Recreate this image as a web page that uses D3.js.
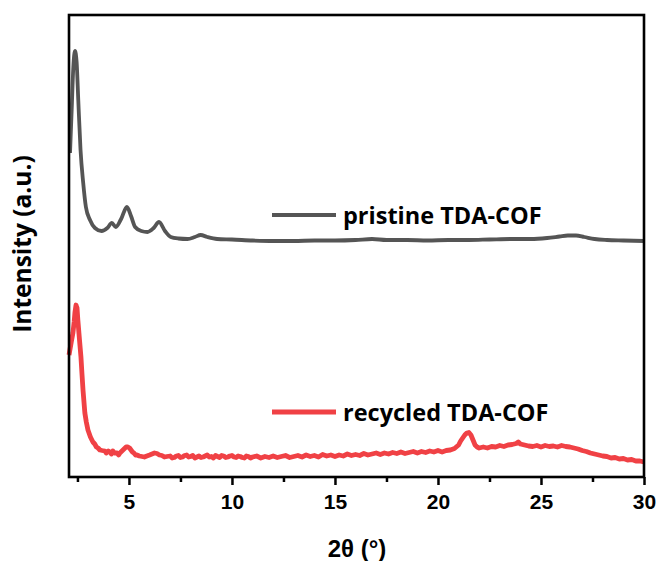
<!DOCTYPE html>
<html>
<head>
<meta charset="utf-8">
<script src="https://cdn.jsdelivr.net/npm/d3@7"></script>
<style>
  html, body { margin: 0; padding: 0; background: #fff; }
  svg { display: block; }
</style>
</head>
<body>
<svg id="chart" width="660" height="561"></svg>
<script>
// PXRD patterns, [2θ (°), intensity (a.u.)], curves stacked for display
const pristine = [
  [2.14, 324], [2.22, 367], [2.30, 410], [2.38, 426], [2.46, 415], [2.54, 377],
  [2.65, 327], [2.78, 294], [2.91, 270], [3.11, 257], [3.35, 249], [3.67, 246],
  [3.95, 249], [4.17, 254], [4.36, 250], [4.62, 258], [4.90, 270], [5.10, 261],
  [5.30, 250], [5.60, 246], [5.90, 245], [6.20, 249], [6.46, 255], [6.75, 246],
  [7.03, 240], [7.40, 238.5], [7.84, 238], [8.20, 240], [8.48, 242], [8.80, 240],
  [9.28, 238], [10.0, 237.5], [11.0, 236.5], [12.0, 236], [13.0, 236], [14.0, 236.5],
  [15.0, 236.5], [16.0, 237], [16.8, 238], [17.5, 237], [18.5, 237], [19.5, 236.5],
  [20.5, 237], [21.5, 237], [22.5, 237.5], [23.5, 238], [24.5, 238], [25.3, 239],
  [25.9, 240.5], [26.3, 241.5], [26.7, 241.5], [27.1, 240], [27.6, 238], [28.2, 237],
  [29.0, 236.5], [30.0, 236]
];

const recycled = [
  [2.09, 122], [2.20, 135], [2.28, 144], [2.34, 155], [2.38, 165], [2.43, 172],
  [2.46, 170], [2.48, 169], [2.52, 157], [2.60, 137], [2.67, 120], [2.72, 103],
  [2.77, 87], [2.86, 64], [2.93, 55], [3.01, 47], [3.13, 40], [3.25, 35],
  [3.34, 33], [3.42, 30], [3.50, 29], [3.59, 27], [3.70, 26.5], [3.83, 26],
  [3.90, 24], [4.00, 26], [4.08, 25], [4.15, 23], [4.22, 26], [4.30, 24],
  [4.42, 24], [4.50, 22], [4.56, 24], [4.66, 26], [4.76, 28], [4.86, 30],
  [4.95, 30], [5.03, 29], [5.10, 27], [5.17, 25], [5.24, 24], [5.32, 22],
  [5.39, 22], [5.50, 21], [5.63, 20.5], [5.75, 20], [5.87, 21], [6.00, 22],
  [6.12, 23], [6.24, 24], [6.36, 23.5], [6.48, 22], [6.60, 21.5], [6.72, 20],
  [6.84, 20.5], [7.0, 21], [7.1, 19], [7.2, 19.5], [7.3, 21], [7.4, 21.5], [7.5, 19.5],
  [7.6, 20], [7.7, 21.5], [7.8, 22], [7.9, 20], [8.0, 20.5], [8.1, 21.5], [8.2, 19],
  [8.3, 20], [8.4, 21], [8.5, 19.5], [8.6, 20], [8.7, 21], [8.8, 22], [8.9, 20],
  [9.0, 20.5], [9.1, 19], [9.2, 21.5], [9.3, 20.5], [9.4, 19.5], [9.5, 21.5],
  [9.6, 21], [9.7, 19.5], [9.8, 20], [9.9, 21], [10.0, 21.5], [10.1, 20], [10.2, 19.5],
  [10.3, 21], [10.4, 20.5], [10.5, 19.5], [10.6, 19], [10.7, 21], [10.8, 20.5],
  [10.9, 19], [11.0, 20], [11.2, 21], [11.4, 19],
  [11.6, 20.5], [11.8, 19.5], [12.0, 21], [12.2, 19.5], [12.4, 20.5], [12.6, 21.5],
  [12.8, 19.5], [13.0, 20.5], [13.2, 21.5], [13.4, 20], [13.6, 22], [13.8, 20.5],
  [14.0, 21.5], [14.2, 20], [14.4, 22.5], [14.6, 21], [14.8, 22], [15.0, 20.5],
  [15.2, 22], [15.4, 21], [15.6, 23], [15.8, 21.5], [16.0, 22.5], [16.2, 21.5],
  [16.4, 23.5], [16.6, 22], [16.8, 23], [17.0, 24], [17.2, 22.5], [17.4, 24],
  [17.6, 23], [17.8, 24.5], [18.0, 23.5], [18.2, 25], [18.4, 23.5], [18.6, 24.5],
  [18.8, 25.5], [19.0, 24], [19.2, 25.5], [19.4, 24.5], [19.6, 26], [19.8, 25],
  [20.0, 26.5], [20.2, 25], [20.4, 26.5], [20.6, 27], [20.8, 28.5], [21.0, 32],
  [21.1, 36], [21.2, 39], [21.3, 42], [21.4, 44], [21.5, 44.5], [21.6, 42],
  [21.7, 37], [21.8, 32], [21.9, 30], [22.0, 29], [22.2, 30], [22.4, 29],
  [22.6, 30.5], [22.8, 30], [23.0, 31.5], [23.2, 30.5], [23.4, 32], [23.6, 32.5],
  [23.8, 33.5], [23.9, 35], [24.0, 33], [24.2, 32], [24.4, 31], [24.6, 30.5],
  [24.8, 31.5], [25.0, 30], [25.2, 31.5], [25.4, 30.5], [25.6, 31], [25.8, 30],
  [26.0, 31.5], [26.2, 30.5], [26.4, 30], [26.6, 29], [26.8, 28], [27.0, 26.5],
  [27.2, 25.5], [27.4, 24], [27.6, 23], [27.8, 22], [28.0, 21], [28.2, 20.5],
  [28.4, 19], [28.6, 19.5], [28.8, 18], [29.0, 18.5], [29.2, 17], [29.4, 17.5],
  [29.6, 16], [29.8, 16], [30.0, 15]
];

const seriesNames = ["pristine TDA-COF", "recycled TDA-COF"];
const seriesColors = ["#555555", "#f04145"];
const xTicks = [5, 10, 15, 20, 25, 30];
const xMinorTicks = [2.5, 7.5, 12.5, 17.5, 22.5, 27.5];
const xDomain = [2.09, 30];
const yDomain = [0, 462];

const plot = { left: 69, right: 644, top: 15, bottom: 477 };

const svg = d3.select("#chart");

const x = d3.scaleLinear().domain(xDomain).range([plot.left, plot.right]);
const y = d3.scaleLinear().domain(yDomain).range([plot.bottom, plot.top]);

const line = d3.line()
  .x(d => x(d[0]))
  .y(d => y(d[1]));

// traces
svg.append("path")
  .datum(recycled)
  .attr("d", line.curve(d3.curveLinear))
  .attr("fill", "none")
  .attr("stroke", seriesColors[1])
  .attr("stroke-width", 4.8)
  .attr("stroke-linejoin", "round");

svg.append("path")
  .datum(pristine)
  .attr("d", line.curve(d3.curveMonotoneX))
  .attr("fill", "none")
  .attr("stroke", seriesColors[0])
  .attr("stroke-width", 3.8)
  .attr("stroke-linejoin", "round");

// bottom axis with major and minor ticks
const xAxis = d3.axisBottom(x).tickValues(xTicks).tickSize(8).tickFormat(d3.format("d"));
const gx = svg.append("g")
  .attr("transform", `translate(0,${plot.bottom})`)
  .call(xAxis);
gx.select(".domain").remove();
gx.selectAll(".tick line").attr("stroke", "#000").attr("stroke-width", 2.5);
gx.selectAll(".tick text")
  .attr("y", 17)
  .attr("dy", "0.71em")
  .style("font-family", "'Liberation Sans', Arial, sans-serif")
  .style("font-weight", "bold")
  .style("font-size", "21px")
  .attr("fill", "#000");

const gxm = svg.append("g")
  .attr("transform", `translate(0,${plot.bottom})`)
  .call(d3.axisBottom(x).tickValues(xMinorTicks).tickSize(5).tickFormat(""));
gxm.select(".domain").remove();
gxm.selectAll(".tick line").attr("stroke", "#000").attr("stroke-width", 2.5);

// frame
svg.append("rect")
  .attr("x", plot.left)
  .attr("y", plot.top)
  .attr("width", plot.right - plot.left)
  .attr("height", plot.bottom - plot.top)
  .attr("fill", "none")
  .attr("stroke", "#000")
  .attr("stroke-width", 2.6);

// legend entries placed beside each trace
const legendRows = [
  { name: seriesNames[0], color: seriesColors[0], y: 215, w: 3.8 },
  { name: seriesNames[1], color: seriesColors[1], y: 412, w: 4.8 }
];
legendRows.forEach(r => {
  svg.append("line")
    .attr("x1", 272).attr("x2", 336)
    .attr("y1", r.y).attr("y2", r.y)
    .attr("stroke", r.color)
    .attr("stroke-width", r.w);
  svg.append("text")
    .attr("x", 343)
    .attr("y", r.y + 9)
    .text(r.name)
    .style("font-family", "'Open Sans', 'Noto Sans', sans-serif")
    .style("font-weight", "bold")
    .style("font-size", "23.5px")
    .attr("fill", "#000");
});

// axis titles
svg.append("text")
  .attr("x", 357)
  .attr("y", 557)
  .attr("text-anchor", "middle")
  .text("2θ (°)")
  .style("font-family", "'Liberation Sans', Arial, sans-serif")
  .style("font-weight", "bold")
  .style("font-size", "24px")
  .attr("fill", "#000");

svg.append("text")
  .attr("transform", `translate(31,244) rotate(-90)`)
  .attr("text-anchor", "middle")
  .text("Intensity (a.u.)")
  .style("font-family", "'Open Sans', 'Noto Sans', sans-serif")
  .style("font-weight", "bold")
  .style("font-size", "24.5px")
  .attr("fill", "#000");
</script>
</body>
</html>
